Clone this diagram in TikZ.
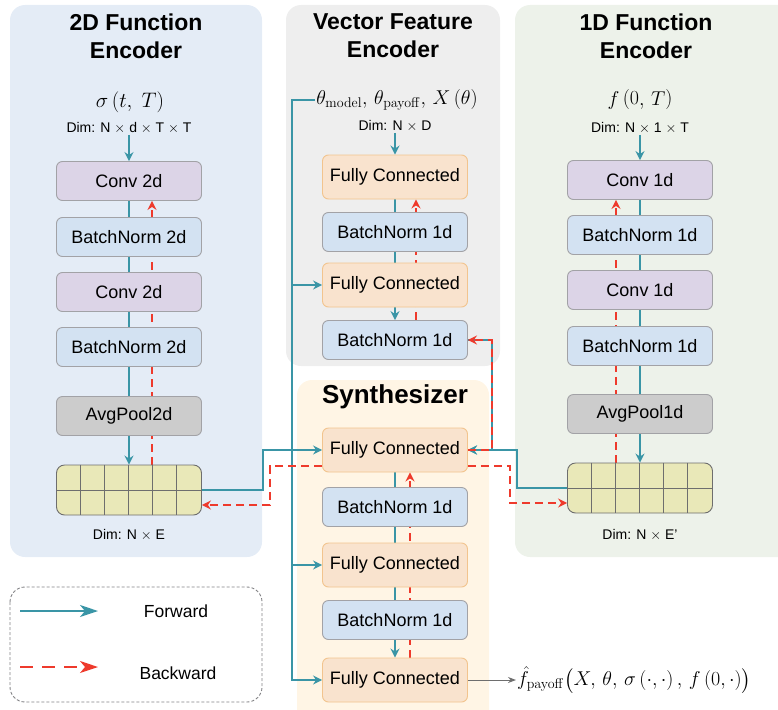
\RequirePackage{fix-cm}
\documentclass[tikz,border=0pt]{standalone}
\usepackage{amsmath}
\usepackage[no-math]{fontspec}
\setmainfont{Liberation Sans}
\usetikzlibrary{arrows.meta}

\definecolor{PanelA}{HTML}{E4ECF6}
\definecolor{PanelV}{HTML}{EEEEEE}
\definecolor{PanelB}{HTML}{EDF2EA}
\definecolor{PanelS}{HTML}{FFF5E5}
\definecolor{ConvFill}{HTML}{DCD4E7}
\definecolor{NormFill}{HTML}{D3E2F2}
\definecolor{PoolFill}{HTML}{CCCCCC}
\definecolor{FcFill}{HTML}{F9E3CE}
\definecolor{FcEdge}{HTML}{F2C48E}
\definecolor{BoxEdge}{HTML}{A2A2A6}
\definecolor{GridFill}{HTML}{E9E8B8}
\definecolor{GridEdge}{HTML}{6E6E6E}
\definecolor{Fwd}{HTML}{3A95A6}
\definecolor{Bwd}{HTML}{EE3A2C}

\newcommand\boxfont{\fontsize{18}{21}\selectfont}
\newcommand\titlefont{\fontsize{23}{28}\selectfont\bfseries}
\newcommand\dimfont{\fontsize{14}{16}\selectfont}
\newcommand\mathfont{\fontsize{20}{24}\selectfont}
\newcommand\crossx{$\times$}

\pgfdeclarelayer{bg}
\pgfdeclarelayer{wires}
\pgfsetlayers{bg,wires,main}

\begin{document}
\begin{tikzpicture}[x=1pt, y=-1pt,
    block/.style={draw=BoxEdge, line width=0.9pt, rounded corners=6pt, minimum width=145pt,
        minimum height=39pt, inner sep=0pt, font=\boxfont},
    conv/.style={block, fill=ConvFill},
    norm/.style={block, fill=NormFill},
    pool/.style={block, fill=PoolFill},
    fc/.style={block, fill=FcFill, draw=FcEdge, minimum height=44pt},
    embed/.style={draw=GridEdge, line width=0.9pt, fill=GridFill, rounded corners=8pt,
        minimum width=145pt, minimum height=50pt, inner sep=0pt},
    title/.style={font=\titlefont, align=center},
    dim/.style={font=\dimfont, inner sep=1pt},
    formula/.style={font=\mathfont, inner sep=1pt},
    fwd/.style={draw=Fwd, line width=1.7pt, -{Stealth[length=9pt, width=9pt, inset=3pt]}},
    fwdline/.style={draw=Fwd, line width=1.7pt},
    bwd/.style={draw=Bwd, line width=1.7pt, dash pattern=on 8pt off 5pt,
        -{Stealth[length=9pt, width=9pt, inset=3pt]}},
    panel/.style={rounded corners=15pt}
]
\useasboundingbox (0,0) rectangle (778,709);

% panels
\begin{pgfonlayer}{bg}
    \fill[PanelA, panel] (10,5) rectangle (262,557);
    \fill[PanelV, panel] (286,5) rectangle (500,366);
    \fill[PanelB, panel] (515,5) rectangle (810,557);
    \fill[PanelS, panel] (297,380) rectangle (489,730);
\end{pgfonlayer}

% 2D function encoder
\begin{scope}
    \node[title] (titleA) at (136,36) {2D Function\\Encoder};
    \node[formula, font=\fontsize{21}{24}\selectfont] (sigma) at (130,102) {$\sigma\left(t,\;T\right)$};
    \node[dim] (dimA) at (129,128) {Dim: N \crossx{} d \crossx{} T \crossx{} T};
    \node[conv] (convA1) at (129,181) {Conv 2d};
    \node[norm] (bnA1) at (129,237) {BatchNorm 2d};
    \node[conv] (convA2) at (129,292) {Conv 2d};
    \node[norm] (bnA2) at (129,347) {BatchNorm 2d};
    \node[pool] (poolA) at (129,416) {AvgPool2d};
    \node[embed] (embA) at (129,490) {};
    \foreach \i in {1,...,5}
        \draw[GridEdge, line width=0.9pt] ([xshift=\i*24.17pt]embA.north west) -- ([xshift=\i*24.17pt]embA.south west);
    \draw[GridEdge, line width=0.9pt] (embA.west) -- (embA.east);
    \node[dim] (dimEA) at (129,535) {Dim: N \crossx{} E};
    \begin{pgfonlayer}{wires}
        \draw[fwd] (dimA) -- (convA1);
        \draw[fwdline] (convA1) -- (poolA);
        \draw[fwd] (poolA) -- (embA);
        \draw[bwd] ([xshift=23pt]embA.north) -- ([xshift=23pt]convA1.south);
    \end{pgfonlayer}
\end{scope}

% vector feature encoder
\begin{scope}
    \node[title] (titleV) at (393,36) {Vector Feature\\Encoder};
    \node[formula] (theta) at (397,100) {$\theta_{\mathrm{model}},\,\theta_{\mathrm{payoff}},\,X\left(\theta\right)$};
    \node[dim] (dimV) at (395,126) {Dim: N \crossx{} D};
    \node[fc] (fcV1) at (395,177) {Fully Connected};
    \node[norm] (bnV1) at (395,232) {BatchNorm 1d};
    \node[fc] (fcV2) at (395,285) {Fully Connected};
    \node[norm] (bnV2) at (395,340) {BatchNorm 1d};
    \begin{pgfonlayer}{wires}
        \draw[fwd] (dimV) -- (fcV1);
        \draw[fwdline] (fcV1) -- (fcV2);
        \draw[fwd] (fcV2) -- (bnV2);
        \draw[bwd] ([xshift=21pt]bnV2.north) -- ([xshift=21pt]fcV1.south);
    \end{pgfonlayer}
\end{scope}

% 1D function encoder
\begin{scope}
    \node[title] (titleB) at (646,36) {1D Function\\Encoder};
    \node[formula] (fzero) at (640,100) {$f\left(0,\,T\right)$};
    \node[dim] (dimB) at (640,128) {Dim: N \crossx{} 1 \crossx{} T};
    \node[conv] (convB1) at (640,180) {Conv 1d};
    \node[norm] (bnB1) at (640,235) {BatchNorm 1d};
    \node[conv] (convB2) at (640,290) {Conv 1d};
    \node[norm] (bnB2) at (640,346) {BatchNorm 1d};
    \node[pool] (poolB) at (640,414) {AvgPool1d};
    \node[embed] (embB) at (640,488) {};
    \foreach \i in {1,...,5}
        \draw[GridEdge, line width=0.9pt] ([xshift=\i*24.17pt]embB.north west) -- ([xshift=\i*24.17pt]embB.south west);
    \draw[GridEdge, line width=0.9pt] (embB.west) -- (embB.east);
    \node[dim] (dimEB) at (640,535) {Dim: N \crossx{} E'};
    \begin{pgfonlayer}{wires}
        \draw[fwd] (dimB) -- (convB1);
        \draw[fwdline] (convB1) -- (poolB);
        \draw[fwd] (poolB) -- (embB);
        \draw[bwd] ([xshift=-24pt]embB.north) -- ([xshift=-24pt]convB1.south);
    \end{pgfonlayer}
\end{scope}

% synthesizer
\begin{scope}
    \node[font=\fontsize{26}{30}\selectfont\bfseries] (titleS) at (395,397) {Synthesizer};
    \node[fc] (fcS1) at (395,450) {Fully Connected};
    \node[norm] (bnS1) at (395,507) {BatchNorm 1d};
    \node[fc] (fcS2) at (395,565) {Fully Connected};
    \node[norm] (bnS2) at (395,620) {BatchNorm 1d};
    \node[fc] (fcS3) at (395,680) {Fully Connected};
    \node[formula, anchor=west] (fhat) at (516,680)
        {$\hat{f}_{\mathrm{payoff}}\bigl(X,\,\theta,\,\sigma\left(\cdot,\cdot\right),\,f\left(0,\cdot\right)\bigr)$};
    \begin{pgfonlayer}{wires}
        \draw[fwdline] (fcS1) -- (bnS2);
        \draw[fwd] (bnS2) -- (fcS3);
        \draw[bwd] ([xshift=15pt]fcS3.north) -- ([xshift=15pt]fcS1.south);
        \draw[draw=GridEdge, line width=1pt, -{Stealth[length=8pt, width=6pt]}] (fcS3.east) -- (fhat.west);
    \end{pgfonlayer}
\end{scope}

% links between the blocks
\begin{pgfonlayer}{wires}
    \coordinate (trunk) at (292,100);
    \draw[fwd] (theta.west) -- (trunk) |- (fcS3.west);
    \draw[fwd] (trunk |- fcV2.west) -- (fcV2.west);
    \draw[fwd] (trunk |- fcS2.west) -- (fcS2.west);
    \draw[fwd] (embA.east) -- ++(61,0) |- (fcS1.west);
    \draw[bwd] ([yshift=-16pt]fcS1.west) -| (270,505) -- ([yshift=-15pt]embA.east);
    \draw[fwd] (bnV2.east) -- ++(24,0) |- (fcS1.east);
    \draw[fwd] (embB.west) -- ++(-50,0) |- (fcS1.east);
    \draw[bwd] (fcS1.east) -| ([xshift=24pt]bnV2.east) -- (bnV2.east);
    \draw[bwd] ([yshift=-16pt]fcS1.east) -| (510,503) -- ([yshift=-15pt]embB.west);
\end{pgfonlayer}

% legend
\draw[BoxEdge!80!black, line width=0.9pt, dash pattern=on 3pt off 2pt, rounded corners=15pt] (10,587) rectangle (262,702);
\coordinate (legF1) at (20,611);
\coordinate (legF2) at (98,611);
\coordinate (legB1) at (20,667);
\coordinate (legB2) at (98,667);
\draw[fwd, -{Stealth[length=18pt, width=12pt, inset=5pt]}] (legF1) -- (legF2);
\draw[bwd, dash pattern=on 13pt off 9pt, -{Stealth[length=18pt, width=12pt, inset=5pt]}] (legB1) -- (legB2);
\node[font=\fontsize{17.5}{20}\selectfont] (legF) at (176,611) {Forward};
\node[font=\fontsize{17.5}{20}\selectfont] (legB) at (178,673) {Backward};
\end{tikzpicture}
\end{document}
